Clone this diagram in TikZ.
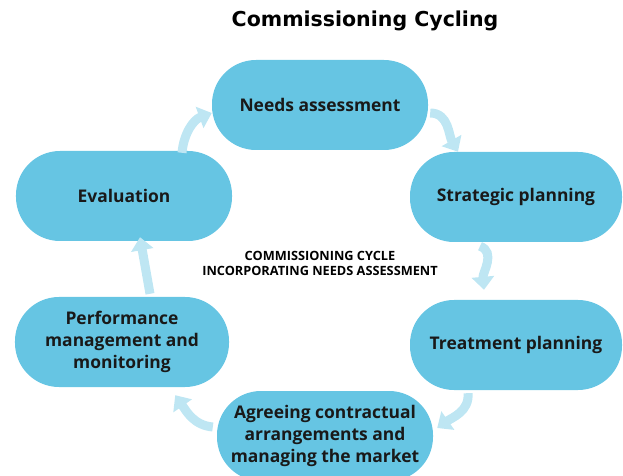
\documentclass[tikz,border=0pt]{standalone}
\usepackage{fontspec}
\setmainfont{Open Sans}
\newfontfamily\titlefont{DejaVu Sans}
\usetikzlibrary{arrows.meta}
\definecolor{boxblue}{RGB}{102,197,227}
\definecolor{arrowblue}{RGB}{190,230,243}
\begin{document}
\begin{tikzpicture}[x=1bp,y=-1bp,
  stagebox/.style={fill=boxblue, draw=none, rounded corners=44bp,
    minimum width=216bp, minimum height=90bp, align=center,
    font=\fontsize{17.5}{22}\selectfont\bfseries, text=black!90},
  cyclearrow/.style={draw=arrowblue, line width=9bp,
    -{Triangle[width=22bp,length=13bp]}}]
\useasboundingbox (0,0) rectangle (623,476);
\node[font=\titlefont\fontsize{20.6}{24}\selectfont\bfseries] (title) at (365,21) {Commissioning Cycling};
\node[stagebox] (n1) at (320,105) {Needs assessment};
\node[stagebox, minimum width=212bp] (n2) at (516,197) {Strategic planning};
\node[stagebox, minimum width=212bp] (n3) at (516,345) {Treatment planning};
\node[stagebox] (n4) at (325,436) {Agreeing contractual\\arrangements and\\managing the market};
\node[stagebox, minimum width=214bp] (n5) at (122,342) {Performance\\management and\\monitoring};
\node[stagebox] (n6) at (124,196) {Evaluation};
\node[font=\fontsize{12.8}{15}\selectfont\bfseries, align=center] (center) at (320,263)
  {COMMISSIONING CYCLE\\INCORPORATING NEEDS ASSESSMENT};
\draw[cyclearrow] ([shift={(2,8)}]n1.east) to[out=0,in=120] ([shift={(-58,0)}]n2.north);
\draw[cyclearrow] ([shift={(-36,4)}]n2.south) to[out=-20,in=95] ([shift={(-32,-10)}]n3.north);
\draw[cyclearrow] ([shift={(-48,3)}]n3.south) to[out=-85,in=35] ([shift={(4,-8)}]n4.east);
\draw[cyclearrow] ([shift={(-4,-9)}]n4.west) to[out=175,in=-55] ([shift={(-54,8)}]n5.south east);
\draw[cyclearrow] ([shift={(28,-3)}]n5.north) to[out=100,in=-80] ([shift={(16,-4)}]n6.south);
\draw[cyclearrow] ([shift={(58,2)}]n6.north) to[out=85,in=200] ([shift={(0,8)}]n1.west);
\end{tikzpicture}
\end{document}
